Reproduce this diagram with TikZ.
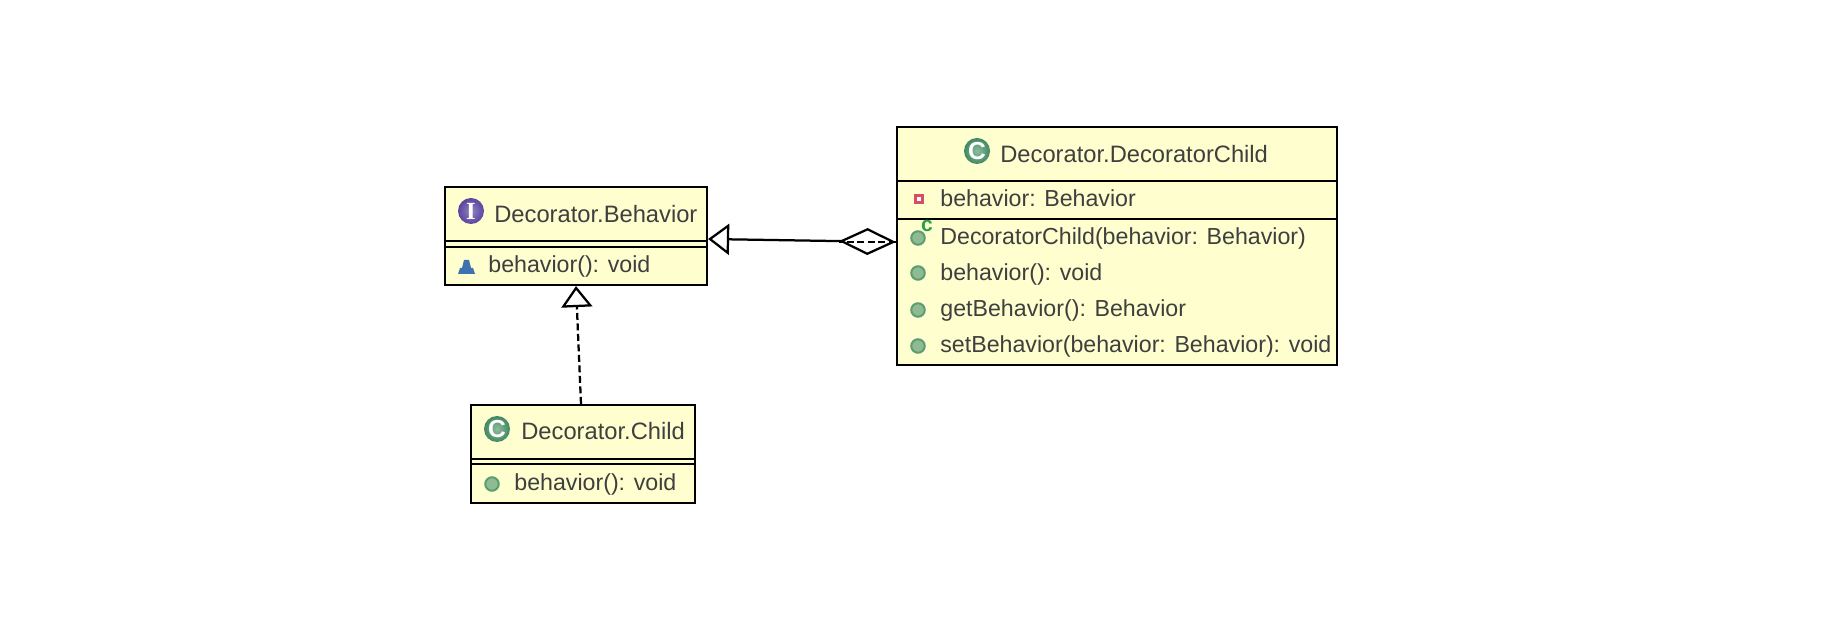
\documentclass[tikz,border=0pt]{standalone}
\usepackage{fontspec}
\setmainfont{Liberation Sans}
\newfontfamily\iconserif{Liberation Serif}
\usetikzlibrary{arrows.meta,calc}
\definecolor{boxfill}{HTML}{FEFECE}
\definecolor{rowtext}{HTML}{3F3F3F}
\definecolor{pubfill}{HTML}{8FBB93}
\definecolor{publine}{HTML}{5C9C72}
\definecolor{classin}{HTML}{8FBC9E}
\definecolor{classout}{HTML}{40885F}
\definecolor{ifacein}{HTML}{9484C4}
\definecolor{ifaceout}{HTML}{5A449E}
\definecolor{pkgfill}{HTML}{3F70B0}
\definecolor{privfill}{HTML}{D84C68}
\definecolor{ctorgreen}{HTML}{2E9E4E}
\tikzset{
	classbox/.style={draw=black,fill=boxfill,line width=0.045cm,inner sep=0pt},
	classline/.style={line width=0.04cm},
	rowlabel/.style={anchor=base west,inner sep=0pt,text=rowtext,font=\fontsize{13.2pt}{14pt}\selectfont},
	titlelabel/.style={rowlabel,font=\fontsize{13.5pt}{14pt}\selectfont},
	kindicon/.style={circle,inner sep=0pt,minimum size=0.52cm,text=white,font=\fontsize{14pt}{14pt}\bfseries\selectfont},
	pubicon/.style={circle,draw=publine,fill=pubfill,line width=0.04cm,inner sep=0pt,minimum size=0.27cm},
	uml/.style={line width=0.045cm},
	dashline/.style={uml,dash pattern=on 0.14cm off 0.07cm}
}
\begin{document}
\begin{tikzpicture}[x=0.02cm,y=-0.02cm]
	\useasboundingbox (0,0) rectangle (1826,644);
	% the three classes
	\node[classbox,minimum width=5.24cm,minimum height=1.96cm] (Behavior) at (576,236) {};
	\node[classbox,minimum width=8.8cm,minimum height=4.76cm] (DecoratorChild) at (1117,246) {};
	\node[classbox,minimum width=4.48cm,minimum height=1.96cm] (Child) at (583,454) {};
	% compartments
	\foreach \y in {241,247}{
		\draw[classline] (Behavior.west |- 0,\y) -- (Behavior.east |- 0,\y);
	}
	\foreach \y in {181,219}{
		\draw[classline] (DecoratorChild.west |- 0,\y) -- (DecoratorChild.east |- 0,\y);
	}
	\foreach \y in {459,464}{
		\draw[classline] (Child.west |- 0,\y) -- (Child.east |- 0,\y);
	}
	% titles
	\node[kindicon,inner color=ifacein,outer color=ifaceout,font=\iconserif\fontsize{14pt}{14pt}\bfseries\selectfont] (BehaviorIcon) at (471,211) {I};
	\node[titlelabel] (BehaviorTitle) at (494,223) {Decorator.Behavior};
	\node[kindicon,inner color=classin,outer color=classout] (DecoratorChildIcon) at (977,151) {C};
	\node[titlelabel] (DecoratorChildTitle) at (1000,163) {Decorator.DecoratorChild};
	\node[kindicon,inner color=classin,outer color=classout] (ChildIcon) at (497,429) {C};
	\node[titlelabel] (ChildTitle) at (521,440) {Decorator.Child};
	% members
	\node[rowlabel] (BehaviorOp) at (488,273) {behavior(): void};
	\fill[pkgfill] (458,274) -- (475,274) -- (473,268) -- (471,268) -- (469,260) -- (464,260) -- (462,268) -- (460,268) -- cycle;
	\node[rowlabel] (ChildOp) at (514,491) {behavior(): void};
	\node[pubicon] (ChildOpIcon) at (492,484) {};
	\node[rowlabel] (FieldRow) at (940,207) {behavior: Behavior};
	\node[fill=privfill,inner sep=0pt,minimum size=0.2cm] (FieldIcon) at (919,199) {};
	\node[fill=white,inner sep=0pt,minimum size=0.09cm] (FieldDot) at (919,199) {};
	\foreach \name/\icony/\basey/\txt in {
		CtorRow/238/245/{DecoratorChild(behavior: Behavior)},
		OpRow/273/281/{behavior(): void},
		GetRow/310/317/{getBehavior(): Behavior},
		SetRow/346/353/{setBehavior(behavior: Behavior): void}}{
		\node[pubicon] (\name Icon) at (918,\icony) {};
		\node[rowlabel] (\name) at (940,\basey) {\txt};
	}
	\node[inner sep=0pt,text=ctorgreen,font=\fontsize{12pt}{12pt}\bfseries\selectfont] (CtorMark) at (927,226) {c};
	% connectors
	\draw[dashline,-{Triangle[open,fill=white,length=0.42cm,width=0.62cm]}] ($(Child.north) + (-2,0)$) -- (Behavior.south);
	\draw[uml,{Diamond[open,fill=white,length=1.14cm,width=0.54cm]}-{Triangle[open,fill=white,length=0.42cm,width=0.62cm]}]
		($(DecoratorChild.west) + (0,-4)$) -- ($(Behavior.east) + (0,3)$);
	\draw[dashline] ($(DecoratorChild.west) + (0,-4)$) -- ($(DecoratorChild.west) + (-57,-4)$);
\end{tikzpicture}
\end{document}
